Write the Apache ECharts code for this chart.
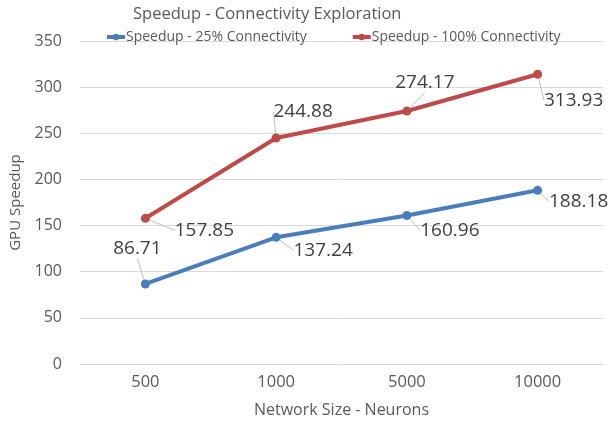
<!DOCTYPE html>
<html>
<head>
<meta charset="utf-8">
<script src="https://cdn.jsdelivr.net/npm/echarts@6/dist/echarts.min.js"></script>
<style>
  html, body { margin: 0; padding: 0; background: #fff; }
  #chart { width: 610px; height: 425px; }
</style>
</head>
<body>
<div id="chart"></div>
<script>
// Network sizes (neurons) on the x axis
const networkSizes = ['500', '1000', '5000', '10000'];
// GPU speedup measured at each connectivity level
const speedup25 = [86.71, 137.24, 160.96, 188.18];
const speedup100 = [157.85, 244.88, 274.17, 313.93];
const seriesNames = ['Speedup - 25% Connectivity', 'Speedup - 100% Connectivity'];

// Where each value label sits relative to its point (pixels)
const labelShift25 = [[-8, -35], [47, 13], [43, 15], [41, 11]];
const labelShift100 = [[59, 12], [27, -26], [18, -28], [36, 26]];

const FONT = 'Open Sans';
const chart = echarts.init(document.getElementById('chart'), null, { renderer: 'canvas' });

function lineSeries(name, values, color, shifts) {
  return {
    name: name,
    type: 'line',
    data: values,
    symbol: 'circle',
    symbolSize: 9,
    lineStyle: { width: 4, color: color },
    itemStyle: { color: color },
    label: {
      show: true,
      position: 'inside',
      color: '#404040',
      fontFamily: FONT,
      fontSize: 19,
      formatter: p => p.value.toFixed(2)
    },
    labelLine: {
      show: true,
      lineStyle: { color: '#bfbfbf', width: 1 }
    },
    labelLayout: function (p) {
      const s = shifts[p.dataIndex];
      return { dx: s[0], dy: s[1] };
    },
    z: 3
  };
}

chart.setOption({
  animation: false,
  backgroundColor: '#ffffff',
  title: {
    text: 'Speedup - Connectivity Exploration',
    left: 128,
    top: 1,
    textStyle: { fontFamily: FONT, fontSize: 16.5, fontWeight: 'normal', color: '#595959' }
  },
  legend: {
    top: 25,
    left: 100,
    itemWidth: 18,
    itemHeight: 8,
    itemGap: 44,
    data: seriesNames,
    lineStyle: { width: 4 },
    textStyle: { fontFamily: FONT, fontSize: 14, color: '#595959', padding: [0, 0, 0, -4] }
  },
  grid: { left: 75, right: 7, top: 41, bottom: 61 },
  xAxis: {
    type: 'category',
    data: networkSizes,
    name: 'Network Size - Neurons',
    nameLocation: 'middle',
    nameGap: 38,
    nameTextStyle: { fontFamily: FONT, fontSize: 16, color: '#595959' },
    axisLine: { show: false },
    axisTick: { show: false },
    axisLabel: { fontFamily: FONT, fontSize: 16.5, color: '#595959', margin: 10 }
  },
  yAxis: {
    type: 'value',
    min: 0,
    max: 350,
    interval: 50,
    name: 'GPU Speedup',
    nameLocation: 'middle',
    nameGap: 57,
    nameTextStyle: { fontFamily: FONT, fontSize: 15, color: '#595959' },
    axisLine: { show: false },
    axisTick: { show: false },
    axisLabel: { fontFamily: FONT, fontSize: 16, color: '#595959', margin: 18 },
    splitLine: { lineStyle: { color: '#d9d9d9', width: 1 } }
  },
  series: [
    lineSeries(seriesNames[0], speedup25, '#4a7ebb', labelShift25),
    lineSeries(seriesNames[1], speedup100, '#be4b48', labelShift100)
  ]
});
</script>
</body>
</html>
